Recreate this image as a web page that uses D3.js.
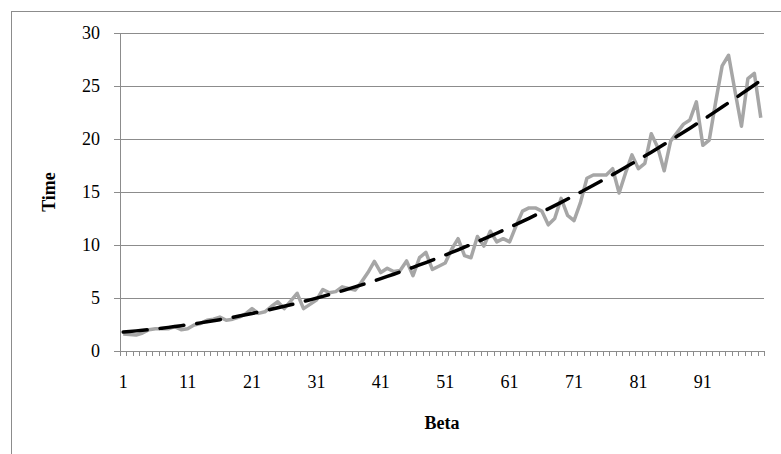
<!DOCTYPE html>
<html lang="en">
<head>
<meta charset="utf-8">
<title>Time vs Beta</title>
<style>
  html, body { margin: 0; padding: 0; background: #fff; }
  svg { display: block; font-family: 'Liberation Serif', 'Times New Roman', serif; }
  .grid line { stroke: #8c8c8c; stroke-width: 1; shape-rendering: crispEdges; }
  .axis path, .axis line { stroke: #8c8c8c; shape-rendering: crispEdges; }
  .axis text { fill: #000; font-size: 18px; font-family: 'Liberation Serif', 'Times New Roman', serif; }
  .title { font-size: 18px; font-weight: bold; fill: #000; }
</style>
</head>
<body>
<svg width="781" height="454"></svg>
<script src="https://cdn.jsdelivr.net/npm/d3@7/dist/d3.min.js"></script>
<script>
// categories (Beta) and series values (Time)
var betaCategories = d3.range(1, 101);
var timeValues = [
  1.6, 1.55, 1.5, 1.7, 2.0, 2.1, 2.1, 2.1, 2.3, 2.0,
  2.1, 2.45, 2.6, 2.9, 3.0, 3.2, 2.9, 3.0, 3.2, 3.5,
  4.0, 3.55, 3.7, 4.2, 4.65, 4.0, 4.7, 5.45, 4.0, 4.4,
  4.8, 5.8, 5.5, 5.6, 6.05, 5.9, 5.75, 6.5, 7.4, 8.45,
  7.4, 7.8, 7.5, 7.6, 8.5, 7.1, 8.8, 9.3, 7.7, 8.0,
  8.3, 9.6, 10.6, 9.0, 8.8, 10.8, 9.9, 11.3, 10.3, 10.6,
  10.3, 11.8, 13.2, 13.5, 13.5, 13.2, 11.9, 12.5, 14.4, 12.8,
  12.3, 14.0, 16.3, 16.6, 16.6, 16.6, 17.2, 14.9, 16.8, 18.5,
  17.2, 17.7, 20.5, 19.2, 17.0, 19.8, 20.6, 21.4, 21.8, 23.5,
  19.4, 19.9, 23.5, 26.9, 27.9, 24.5, 21.2, 25.7, 26.2, 22.0
];
var yTickValues = [0, 5, 10, 15, 20, 25, 30];
var xTickLabels = [1, 11, 21, 31, 41, 51, 61, 71, 81, 91];

var svg = d3.select("svg"),
    plotLeft = 120, plotRight = 764, plotTop = 33, plotBottom = 351;

var data = betaCategories.map(function(c, i) { return {beta: c, time: timeValues[i]}; });

// second-order polynomial trendline (least squares), like Excel's
function quadFit(pts) {
  var n = pts.length, sx = 0, sx2 = 0, sx3 = 0, sx4 = 0, sy = 0, sxy = 0, sx2y = 0;
  pts.forEach(function(p) {
    var x = p.beta, y = p.time;
    sx += x; sx2 += x*x; sx3 += x*x*x; sx4 += x*x*x*x;
    sy += y; sxy += x*y; sx2y += x*x*y;
  });
  // solve 3x3 normal equations (Cramer)
  var m = [[n, sx, sx2], [sx, sx2, sx3], [sx2, sx3, sx4]], r = [sy, sxy, sx2y];
  function det(a) {
    return a[0][0]*(a[1][1]*a[2][2]-a[1][2]*a[2][1])
         - a[0][1]*(a[1][0]*a[2][2]-a[1][2]*a[2][0])
         + a[0][2]*(a[1][0]*a[2][1]-a[1][1]*a[2][0]);
  }
  var D = det(m), coef = [];
  for (var k = 0; k < 3; k++) {
    var mk = m.map(function(row, i) { return row.map(function(v, j) { return j === k ? r[i] : v; }); });
    coef.push(det(mk) / D);
  }
  return function(x) { return coef[0] + coef[1]*x + coef[2]*x*x; };
}
var trend = quadFit(data);

var x = d3.scaleBand().domain(betaCategories).range([plotLeft, plotRight]);
var xEdge = d3.scaleLinear().domain([0, betaCategories.length]).range([plotLeft, plotRight]);
var y = d3.scaleLinear().domain([0, 30]).range([plotBottom, plotTop]);
function cx(d) { return x(d) + x.bandwidth() / 2; }

// outer chart border
svg.append("rect")
    .attr("x", 11.5).attr("y", 11.5)
    .attr("width", 800).attr("height", 500)
    .attr("fill", "none").attr("stroke", "#8c8c8c");

// gridlines
svg.append("g").attr("class", "grid")
  .selectAll("line")
  .data(yTickValues.filter(function(v) { return v > 0; }))
  .enter().append("line")
    .attr("x1", plotLeft).attr("x2", plotRight)
    .attr("y1", function(d) { return y(d); })
    .attr("y2", function(d) { return y(d); });

// y axis
var yAxis = svg.append("g").attr("class", "axis")
    .attr("transform", "translate(" + plotLeft + ",0)")
    .call(d3.axisLeft(y).tickValues(yTickValues).tickSizeInner(6).tickSizeOuter(0).tickPadding(14));

// x axis: tick marks between categories
svg.append("g").attr("class", "axis")
    .attr("transform", "translate(0," + plotBottom + ")")
    .call(d3.axisBottom(xEdge).tickValues(d3.range(0, betaCategories.length + 1))
      .tickSize(5).tickSizeOuter(0).tickFormat(""));

// x axis labels every 10th category
var xLab = svg.append("g").attr("class", "axis")
    .attr("transform", "translate(0," + plotBottom + ")")
    .call(d3.axisBottom(x).tickValues(xTickLabels).tickSize(0).tickPadding(24));
xLab.select(".domain").remove();

// data line
var line = d3.line()
    .x(function(d) { return cx(d.beta); })
    .y(function(d) { return y(d.time); });

svg.append("path")
    .datum(data)
    .attr("fill", "none")
    .attr("stroke", "#a6a6a6")
    .attr("stroke-width", 3.5)
    .attr("stroke-linejoin", "round")
    .attr("d", line);

// dashed trendline
var trendLine = d3.line()
    .x(function(d) { return cx(d); })
    .y(function(d) { return y(trend(d)); });

svg.append("path")
    .datum(betaCategories)
    .attr("fill", "none")
    .attr("stroke", "#000")
    .attr("stroke-width", 3.5)
    .attr("stroke-linecap", "round")
    .attr("stroke-dasharray", "24,13")
    .attr("d", trendLine);

// axis titles
svg.append("text").attr("class", "title")
    .attr("text-anchor", "middle")
    .attr("transform", "translate(55," + ((plotTop + plotBottom) / 2) + ") rotate(-90)")
    .text("Time");

svg.append("text").attr("class", "title")
    .attr("text-anchor", "middle")
    .attr("x", (plotLeft + plotRight) / 2).attr("y", 429)
    .text("Beta");
</script>
</body>
</html>
